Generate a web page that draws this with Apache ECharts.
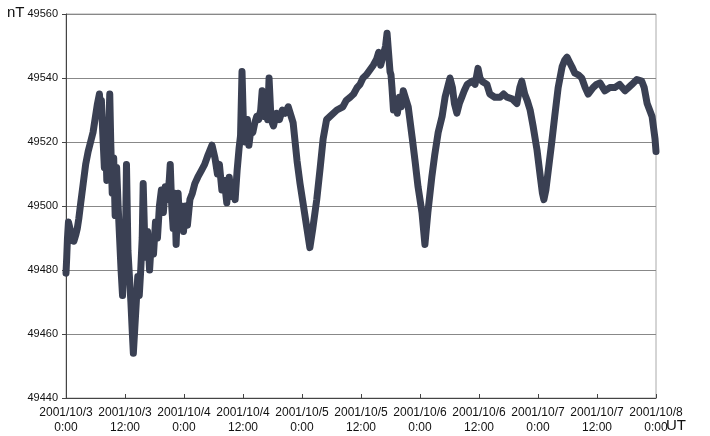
<!DOCTYPE html>
<html>
<head>
<meta charset="utf-8">
<script src="https://cdn.jsdelivr.net/npm/echarts@6/dist/echarts.min.js"></script>
<style>
    html, body { margin: 0; padding: 0; background: #fff; }
    #chart { width: 710px; height: 436px; }
</style>
</head>
<body>
<div id="chart"></div>
<script>
// hours since 2001/10/3 0:00 UT
var hours = [
    0.0, 0.15, 0.3, 0.5, 0.8, 1.0, 1.3, 1.6, 2.0, 2.3, 2.6, 3.0, 3.5, 4.0, 4.5, 5.0, 5.5, 6.0, 6.4, 6.8,
    7.0, 7.2, 7.5, 7.8, 8.0, 8.3, 8.6, 8.9, 9.1, 9.4, 9.7, 10.0, 10.3, 10.6, 10.9, 11.2, 11.5, 11.8, 12.0, 12.3,
    12.6, 12.9, 13.2, 13.5, 13.7, 14.0, 14.3, 14.6, 14.9, 15.2, 15.5, 15.7, 16.0, 16.3, 16.6, 17.0, 17.4, 17.8, 18.2, 18.6,
    19.0, 19.4, 19.8, 20.2, 20.6, 21.0, 21.2, 21.5, 21.8, 22.1, 22.4, 22.8, 23.1, 23.5, 23.9, 24.3, 24.7, 25.2, 25.7, 26.2,
    26.8, 27.5, 28.2, 28.9, 29.7, 30.3, 30.8, 31.2, 31.7, 32.2, 32.7, 33.2, 33.6, 34.0, 34.4, 34.8, 35.2, 35.5, 35.8, 36.1,
    36.5, 36.9, 37.2, 37.6, 38.0, 38.4, 38.8, 39.2, 39.6, 39.9, 40.2, 40.6, 41.0, 41.3, 41.7, 42.2, 42.8, 43.4, 44.0, 44.6,
    45.2, 45.8, 46.2, 46.6, 47.0, 47.6, 48.2, 49.0, 49.6, 50.2, 51.0, 51.7, 52.3, 53.0, 53.7, 55.1, 56.3, 57.0, 57.8, 58.5,
    59.2, 59.8, 60.4, 61.1, 61.8, 62.5, 63.2, 63.6, 64.0, 64.5, 65.0, 65.3, 65.6, 65.9, 66.1, 66.3, 66.6, 67.0, 67.4, 67.8,
    68.2, 68.6, 69.0, 69.6, 70.4, 71.0, 71.6, 72.4, 73.0, 73.6, 74.4, 75.0, 75.7, 76.5, 77.1, 77.6, 78.1, 78.6, 79.0, 79.5,
    80.0, 80.5, 81.0, 81.6, 82.6, 83.2, 83.8, 84.2, 84.6, 85.6, 86.2, 87.2, 88.3, 89.0, 89.7, 90.7, 91.7, 92.3, 92.7, 93.3,
    93.8, 94.4, 95.0, 95.8, 96.4, 96.9, 97.2, 97.6, 98.0, 98.8, 99.4, 100.1, 100.9, 101.4, 101.9, 102.4, 102.9, 103.5, 104.2, 104.9,
    105.6, 106.2, 107.2, 107.9, 108.6, 109.6, 110.6, 111.6, 112.6, 113.7, 114.4, 115.1, 116.1, 117.1, 117.6, 118.2, 118.7, 119.2, 119.8, 120.0
];

// total force (nT)
var values = [
    49479, 49484, 49490, 49495, 49493, 49490, 49492, 49489, 49491, 49493, 49496, 49501, 49507, 49513, 49517, 49520, 49523, 49528, 49532, 49535,
    49530, 49533, 49522, 49512, 49524, 49508, 49518, 49535, 49520, 49504, 49515, 49497, 49512, 49500, 49490, 49480, 49472, 49486, 49478, 49513,
    49486, 49478, 49470, 49460, 49454, 49462, 49470, 49478, 49472, 49480, 49490, 49507, 49490, 49484, 49492, 49480, 49490, 49485, 49495, 49490,
    49500, 49505, 49498, 49506, 49502, 49508, 49513, 49500, 49493, 49504, 49488, 49504, 49495, 49500, 49492, 49500, 49494, 49502, 49504, 49507,
    49509, 49511, 49513, 49516, 49519, 49515, 49510, 49513, 49505, 49508, 49501, 49509, 49503, 49506, 49502, 49511, 49518, 49522, 49542, 49525,
    49520, 49527, 49519, 49524, 49523, 49526, 49528, 49527, 49530, 49536, 49528, 49530, 49527, 49540, 49527, 49525, 49529, 49527, 49530, 49529,
    49531, 49528, 49526, 49520, 49514, 49507, 49501, 49493, 49487, 49493, 49502, 49512, 49521, 49527, 49528, 49530, 49531, 49533, 49534, 49535,
    49537, 49538, 49540, 49541, 49542.5, 49544, 49546, 49548, 49544, 49547, 49550, 49554, 49548, 49542, 49541, 49537, 49530, 49533, 49529, 49534,
    49531, 49536, 49534, 49531, 49521.5, 49514, 49506, 49498, 49488, 49498, 49509, 49516, 49523, 49528, 49534, 49537, 49540, 49537, 49532, 49529,
    49532, 49534, 49536, 49538, 49539, 49538, 49543, 49540, 49539, 49538, 49535, 49534, 49534, 49535, 49534, 49533.5, 49532, 49537, 49539, 49535,
    49533, 49530, 49525, 49517.5, 49510, 49504, 49502, 49505, 49510, 49520, 49528, 49537, 49543.5, 49545.5, 49546.5, 49545, 49543.5, 49541.5, 49541, 49540,
    49537, 49535, 49537, 49538, 49538.5, 49536, 49537, 49537, 49538, 49536, 49537, 49538, 49539.5, 49539, 49537, 49532, 49530, 49528, 49521, 49517
];

var tickLabels = [
    '2001/10/3\n0:00', '2001/10/3\n12:00', '2001/10/4\n0:00', '2001/10/4\n12:00',
    '2001/10/5\n0:00', '2001/10/5\n12:00', '2001/10/6\n0:00', '2001/10/6\n12:00',
    '2001/10/7\n0:00', '2001/10/7\n12:00', '2001/10/8\n0:00'
];

function buildSeriesData() {
    var data = [];
    hours.forEach(function (h, i) {
        data.push([h, values[i]]);
    });
    return data;
}

var font = 'Liberation Sans, Arial, sans-serif';

echarts.init(document.querySelector('#chart')).setOption({
    animation: false,
    backgroundColor: '#fff',
    grid: {
        left: 66, right: 54, top: 14, bottom: 38,
        show: true,
        borderColor: '#aaa',
        borderWidth: 1
    },
    xAxis: {
        type: 'value',
        min: 0,
        max: 120,
        interval: 12,
        axisLine: { show: true, lineStyle: { color: '#444', width: 1 } },
        axisTick: { show: true, inside: true, length: 4, lineStyle: { color: '#444' } },
        splitLine: { show: false },
        axisLabel: {
            color: '#111',
            fontFamily: font,
            fontSize: 12,
            lineHeight: 15,
            margin: 7,
            formatter: function (v) {
                return tickLabels[Math.round(v / 12)];
            }
        }
    },
    yAxis: {
        type: 'value',
        min: 49440,
        max: 49560,
        interval: 20,
        axisLine: { show: true, lineStyle: { color: '#444', width: 1 } },
        axisTick: { show: true, length: 4, lineStyle: { color: '#444' } },
        splitLine: { show: true, lineStyle: { color: '#888', width: 1 } },
        axisLabel: {
            color: '#111', fontFamily: font, fontSize: 11, margin: 8,
            formatter: function (v) { return String(v); }
        }
    },
    graphic: [
        { type: 'text', left: 7, top: 5, style: { text: 'nT', fill: '#111', font: '15px ' + font } },
        { type: 'text', left: 666, top: 418, style: { text: 'UT', fill: '#111', font: '15px ' + font } }
    ],
    series: [{
        type: 'line',
        data: buildSeriesData(),
        showSymbol: false,
        lineStyle: { color: '#3a4053', width: 7, cap: 'round', join: 'round' }
    }]
});
</script>
</body>
</html>
